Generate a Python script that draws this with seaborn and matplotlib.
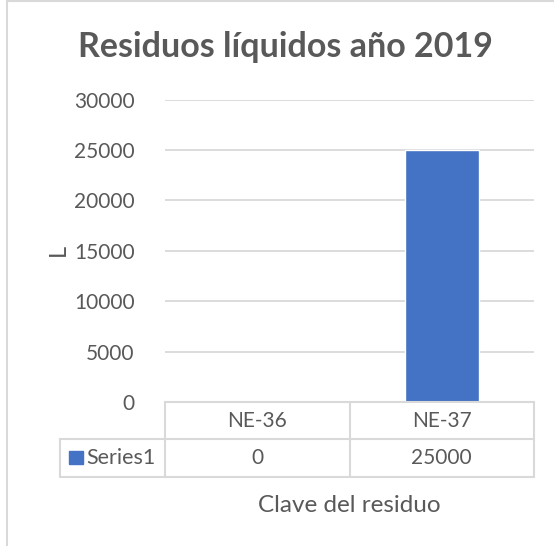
import matplotlib
matplotlib.use("Agg")
import matplotlib.pyplot as plt
import matplotlib.transforms as mtransforms
from matplotlib.lines import Line2D
from matplotlib.patches import Rectangle
import seaborn as sns
import pandas as pd

# datos
categorias = ["NE-36", "NE-37"]
valores = [0, 25000]
serie = "Series1"
titulo = "Residuos líquidos año 2019"
eje_x = "Clave del residuo"
eje_y = "L"

sns.set_theme(style="white")
plt.rcParams['font.family'] = ['Lato', 'DejaVu Sans']

gris = "#595959"
linea = "#D9D9D9"
azul = "#4472C4"
W, H = 554, 546

fig = plt.figure(figsize=(W / 100, H / 100), dpi=100)
ax = fig.add_axes([165 / W, 1 - 402 / H, 369 / W, 302.4 / H])

df = pd.DataFrame({"clave": categorias, "valor": valores})
sns.barplot(data=df, x="clave", y="valor", color=azul, width=0.4,
            saturation=1, ax=ax, zorder=3)

ax.set_ylim(0, 30000)
ax.set_xlim(-0.5, 1.5)
ax.set_yticks(range(0, 30001, 5000))
ax.yaxis.grid(True, color=linea, linewidth=1.3, zorder=0)
ax.tick_params(axis="y", labelsize=15, labelcolor=gris, length=0, pad=22)
ax.set_xticks([])
ax.set_xlabel("")
ax.set_ylabel("")
for s in ax.spines.values():
    s.set_visible(False)

def fy(py):
    return 1 - py / H

def fx(px):
    return px / W

# tabla de datos
tr = mtransforms.blended_transform_factory(ax.transData, fig.transFigure)
lw = 1.5
fig.add_artist(Line2D([fx(165), fx(534)], [fy(402), fy(402)], color=linea, lw=lw))
for py in (439, 477):
    fig.add_artist(Line2D([fx(60), fx(534)], [fy(py), fy(py)], color=linea, lw=lw))
fig.add_artist(Line2D([fx(60), fx(60)], [fy(439), fy(477)], color=linea, lw=lw))
for xd in (-0.5, 0.5, 1.5):
    fig.add_artist(Line2D([xd, xd], [fy(402), fy(477)], color=linea, lw=lw, transform=tr))

for i, (c, v) in enumerate(zip(categorias, valores)):
    fig.text(i, fy(421), c, transform=tr, ha="center", va="center", fontsize=15, color=gris)
    fig.text(i, fy(458), str(v), transform=tr, ha="center", va="center", fontsize=15, color=gris)

fig.add_artist(Rectangle((fx(69), fy(464)), 14 / W, 13 / H, color=azul))
fig.text(fx(86), fy(458), serie, ha="left", va="center", fontsize=15.5, color=gris)

fig.text(fx(349.5), fy(506), eje_x, ha="center", va="center", fontsize=17.5, color=gris)
fig.text(fx(58), fy(250), eje_y, ha="center", va="center", fontsize=17, color=gris, rotation=90)
fig.text(fx(285), fy(47), titulo, ha="center", va="center", fontsize=24.5,
         fontweight="bold", color=gris)

# borde del área del gráfico
fig.add_artist(Line2D([fx(7), fx(7)], [fy(1), 0], color=linea, lw=1.5))
fig.add_artist(Line2D([fx(7), 1], [fy(1), fy(1)], color=linea, lw=1.5))

fig.savefig("out.png", dpi=100)
